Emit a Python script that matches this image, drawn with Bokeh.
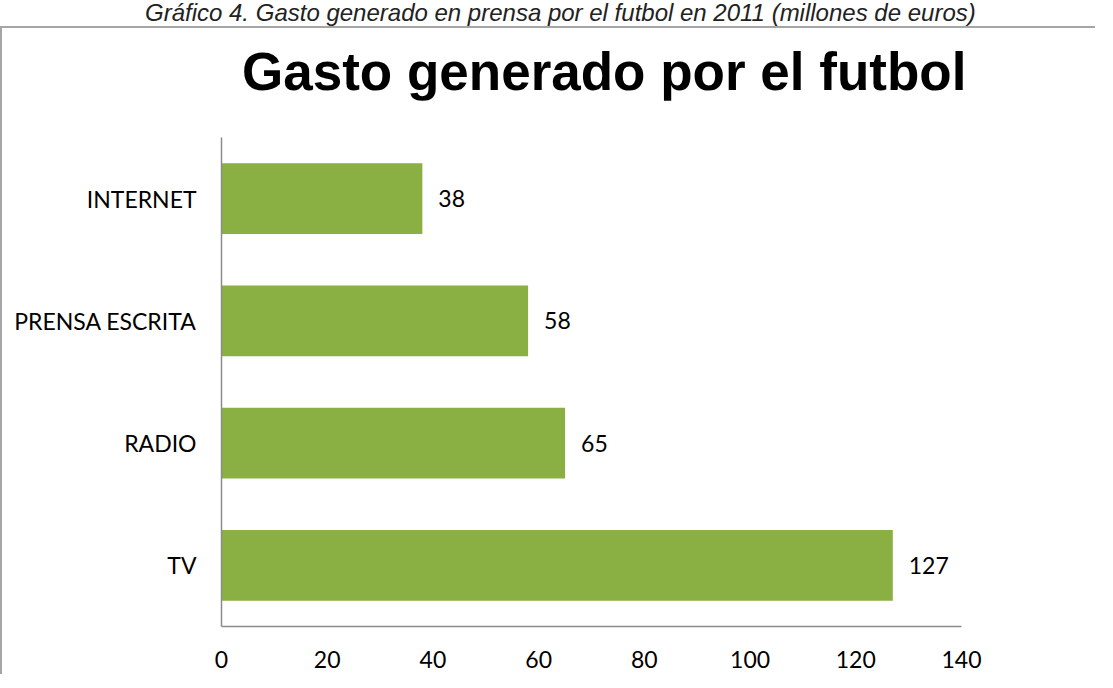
from bokeh.plotting import figure
from bokeh.models import ColumnDataSource, LabelSet, FixedTicker, Div
from bokeh.layouts import column
from bokeh.core.properties import value
from bokeh.embed import file_html
from bokeh.resources import INLINE

categories = ["TV", "RADIO", "PRENSA ESCRITA", "INTERNET"]
values = [127, 65, 58, 38]
x_ticks = [0, 20, 40, 60, 80, 100, 120, 140]
caption = "Gráfico 4. Gasto generado en prensa por el futbol en 2011 (millones de euros)"
title_text = "Gasto generado por el futbol"

W, H = 1095, 574
BORDER = "2px solid #a5a5a5"
source = ColumnDataSource(dict(cat=categories, val=values, lab=[str(v) for v in values]))

p = figure(width=W, height=H, y_range=categories, x_range=(0, 140),
           output_backend="svg", toolbar_location=None, margin=(0, 0, 0, 0),
           min_border_left=219, min_border_right=136, min_border_top=37, min_border_bottom=48,
           styles={"border-left": BORDER})
p.outline_line_color = None
p.xgrid.visible = False
p.ygrid.visible = False

p.hbar(y="cat", right="val", left=0, height=0.58, source=source,
       fill_color="#8aaf43", line_color=None)

p.add_layout(LabelSet(x="val", y="cat", text="lab", source=source, x_offset=16,
                      text_baseline="middle", text_font=value("Lato"),
                      text_font_size="23px", text_color="#000000"))

for ax in (p.xaxis[0], p.yaxis[0]):
    ax.axis_line_color = "#8c8c8c"
    ax.axis_line_width = 1.5
    ax.major_tick_line_color = None
    ax.minor_tick_line_color = None
    ax.major_label_text_font = "Lato"
    ax.major_label_text_font_size = "23px"
    ax.major_label_text_color = "#000000"
p.xaxis.ticker = FixedTicker(ticks=x_ticks)
p.xaxis.major_label_standoff = 18
p.yaxis.major_label_standoff = 19

cap = Div(text=caption, width=1097, height=26, margin=(0, 0, 0, 0),
          styles={"font-family": "Liberation Sans", "font-style": "italic",
                  "font-size": "24px", "line-height": "26px", "color": "#222222",
                  "margin": "0", "padding": "0 0 0 145px", "white-space": "nowrap"})

ttl = Div(text=title_text, width=W, height=74, margin=(0, 0, 0, 0),
          styles={"font-family": "Liberation Sans", "font-weight": "bold",
                  "font-size": "53px", "line-height": "60px", "color": "#000000",
                  "margin": "0", "padding": "14px 0 0 240px", "white-space": "nowrap",
                  "border-top": BORDER, "border-left": BORDER})

layout = column(cap, ttl, p, spacing=0)
open("out.html", "w").write(file_html(layout, INLINE))
